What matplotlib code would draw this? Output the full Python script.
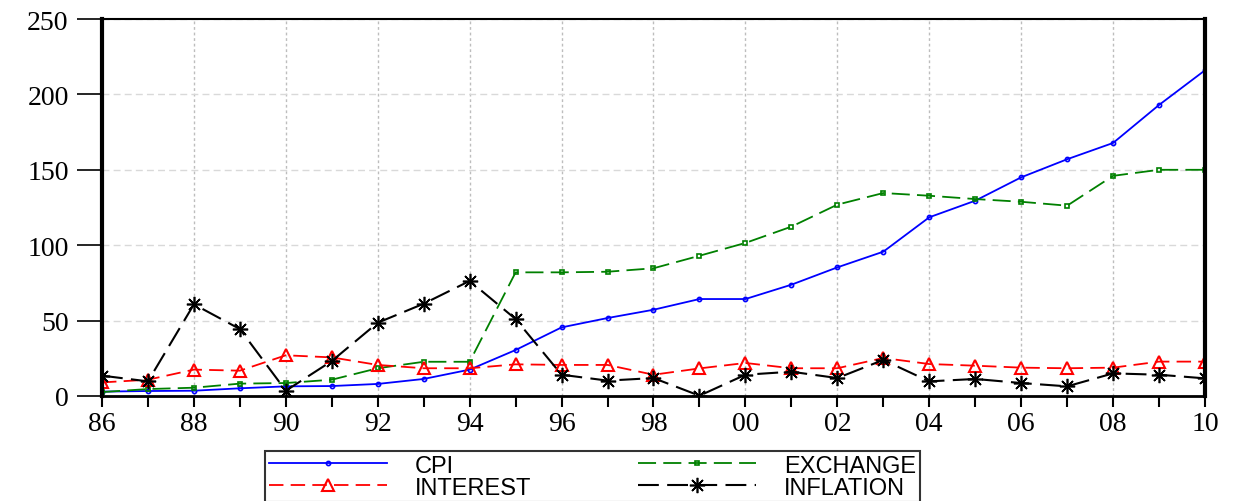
import numpy as np
import matplotlib
matplotlib.use('Agg')
import matplotlib.pyplot as plt

# Данные (годы 1986-2010)
years = list(range(1986, 2011))
cpi = [2.9, 3.3, 3.5, 5.1, 6.4, 6.6, 8.0, 11.3, 17.5, 30.5, 45.5, 51.7, 57.2, 64.3, 64.3,
       73.8, 85.3, 95.7, 118.5, 129.5, 145.0, 157.0, 167.8, 193.0, 216.0]
exchange = [2.6, 4.6, 5.5, 8.2, 8.6, 10.8, 18.4, 22.7, 22.7, 82.0, 82.0, 82.4, 84.7, 93.0, 101.5,
            112.3, 126.9, 134.6, 132.8, 130.6, 128.8, 126.2, 146.0, 150.0, 150.0]
interest = [9.0, 10.8, 17.5, 16.8, 27.0, 25.6, 20.6, 18.4, 18.4, 21.0, 20.6, 20.6, 14.1, 18.3, 21.9,
            18.4, 18.4, 25.2, 21.2, 20.1, 18.8, 18.4, 18.8, 22.8, 22.8]
inflation = [13.5, 9.7, 60.8, 44.4, 3.5, 23.2, 48.6, 61.2, 76.3, 51.0, 14.1, 10.2, 11.9, 0.2, 14.1,
             16.1, 11.9, 23.9, 9.7, 11.3, 8.6, 6.4, 15.0, 14.1, 11.7]
yticks = [0, 50, 100, 150, 200, 250]
xtick_years = list(range(1986, 2011, 2))
xtick_labels = ['%02d' % (y % 100) for y in xtick_years]

fig = plt.figure(figsize=(12.38, 5.02), dpi=100)
ax = fig.add_axes([102 / 1238, 1 - 397 / 502, (1205 - 102) / 1238, (397 - 20) / 502])

l_cpi, = ax.plot(years, cpi, color='blue', lw=1.3, marker='o', ms=3, mfc='none', mew=1.2,
                 label='CPI')
l_exc, = ax.plot(years, exchange, color='green', lw=1.3, dashes=(10, 4), marker='s', ms=3,
                 mfc='none', mew=1.2, label='EXCHANGE')
l_int, = ax.plot(years, interest, color='red', lw=1.3, dashes=(8, 4), marker='^', ms=9,
                 mfc='none', mew=1.5, label='INTEREST')
l_inf, = ax.plot(years, inflation, color='black', lw=1.5, dashes=(10, 4), marker=(8, 2, 0),
                 ms=11, mew=1.2, label='INFLATION')

ax.set_xlim(1986, 2010)
ax.set_ylim(0, 250)
ax.set_yticks(yticks)
ax.set_yticklabels([str(v) for v in yticks])
ax.set_xticks(xtick_years)
ax.set_xticklabels(xtick_labels)
ax.set_xticks(years, minor=True)

ax.grid(axis='y', color='#d9d9d9', ls=(0, (5, 3)), lw=1)
ax.grid(axis='x', which='major', color='#bdbdbd', ls=(0, (2, 2)), lw=1)
ax.set_axisbelow(True)

for side, w in [('left', 3), ('right', 3), ('top', 1.5), ('bottom', 2)]:
    ax.spines[side].set_linewidth(w)

ax.tick_params(axis='y', direction='out', length=18, width=1.2, pad=6,
               labelsize=20, labelfontfamily='Liberation Serif')
ax.tick_params(axis='x', which='both', direction='out', length=8, width=1.5, pad=3,
               labelsize=20, labelfontfamily='Liberation Serif')
ax.tick_params(axis='x', which='minor', length=8)

# порядок: CPI, EXCHANGE в первой строке; INTEREST, INFLATION во второй
leg = fig.legend([l_cpi, l_int, l_exc, l_inf], ['CPI', 'INTEREST', 'EXCHANGE', 'INFLATION'],
                 loc='upper left', bbox_to_anchor=(265 / 1238, 1 - 452 / 502), ncol=2,
                 prop={'family': 'Liberation Sans', 'size': 17}, frameon=True, fancybox=False,
                 edgecolor='black', handlelength=5, columnspacing=4.5, labelspacing=0.0,
                 borderpad=0.15, handletextpad=1.2, borderaxespad=0)
leg.get_frame().set_linewidth(1.5)

plt.savefig('out.png', dpi=100)
